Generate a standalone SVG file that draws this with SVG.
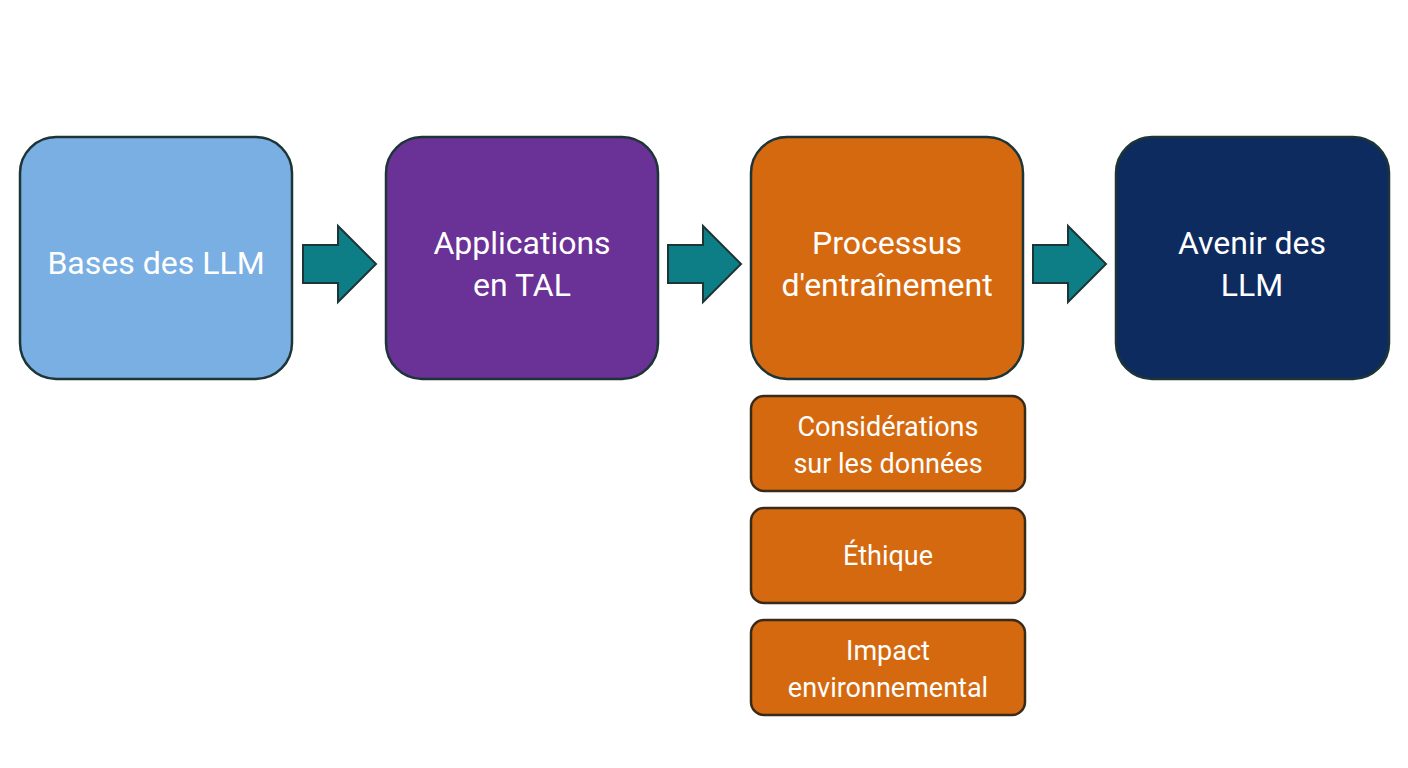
<svg xmlns="http://www.w3.org/2000/svg" width="1408" height="768" viewBox="0 0 1408 768">
<style>
.big{stroke:#1e3537;stroke-width:2.5}
.sm{fill:#d5690f;stroke:#3a2a1a;stroke-width:2.5}
.t{font-family:Roboto,"Liberation Sans",sans-serif;fill:#fff;text-anchor:middle}
.tb{font-size:32px}
.ts{font-size:27px}
.arr{fill:#0e7e86;stroke:#1e3537;stroke-width:2}
</style>
<rect width="1408" height="768" fill="#fff"/>
<g id="connectors">
<path class="arr" d="M303,245 H338 V226 L376,264 L338,302 V283 H303 Z"/>
<path class="arr" d="M668,245 H703 V226 L741,264 L703,302 V283 H668 Z"/>
<path class="arr" d="M1033,245 H1068 V226 L1106,264 L1068,302 V283 H1033 Z"/>
</g>
<g id="n1"><rect class="big" x="20" y="137" width="272" height="242" rx="36" fill="#7aafe3"/><text class="t tb" x="156" y="274">Bases des LLM</text></g>
<g id="n2"><rect class="big" x="386" y="137" width="272" height="242" rx="36" fill="#6a3196"/><text class="t tb" x="522" y="254">Applications</text><text class="t tb" x="522" y="296">en TAL</text></g>
<g id="n3"><rect class="big" x="751" y="137" width="272" height="242" rx="36" fill="#d5690f"/><text class="t tb" x="887" y="254">Processus</text><text class="t tb" x="887" y="296">d'entraînement</text></g>
<g id="n4"><rect class="big" x="1116" y="137" width="273" height="242" rx="36" fill="#0d2b5f"/><text class="t tb" x="1252" y="254">Avenir des</text><text class="t tb" x="1252" y="296">LLM</text></g>
<g id="s1"><rect class="sm" x="751" y="396" width="274" height="95" rx="13"/><text class="t ts" x="888" y="436">Considérations</text><text class="t ts" x="888" y="473">sur les données</text></g>
<g id="s2"><rect class="sm" x="751" y="508" width="274" height="95" rx="13"/><text class="t ts" x="888" y="565">Éthique</text></g>
<g id="s3"><rect class="sm" x="751" y="620" width="274" height="95" rx="13"/><text class="t ts" x="888" y="660">Impact</text><text class="t ts" x="888" y="697">environnemental</text></g>
</svg>
